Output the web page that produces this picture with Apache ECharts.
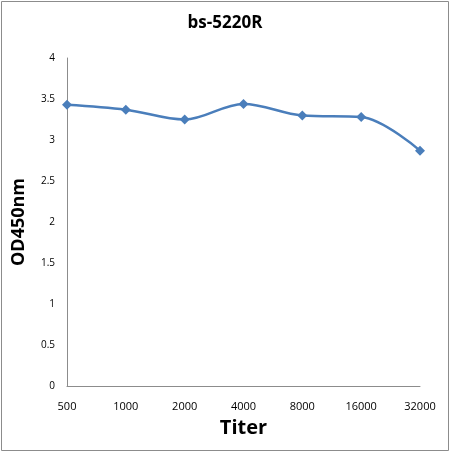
<!DOCTYPE html>
<html>
<head>
<meta charset="utf-8">
<script src="https://cdn.jsdelivr.net/npm/echarts@6/dist/echarts.min.js"></script>
<style>
  html, body { margin: 0; padding: 0; background: #fff; }
  #main { width: 450px; height: 452px; }
</style>
</head>
<body>
<div id="main"></div>
<script>
var titers = ['500', '1000', '2000', '4000', '8000', '16000', '32000'];
var od450 = [3.43, 3.37, 3.25, 3.44, 3.30, 3.28, 2.87];

var chartDom = document.getElementById('main');
var myChart = echarts.init(chartDom);
var font = 'Open Sans, DejaVu Sans, sans-serif';

var option = {
    animation: false,
    title: {
        text: 'bs-5220R',
        left: 'center',
        top: 10,
        textStyle: { fontFamily: font, fontSize: 17, fontWeight: 'bold', color: '#000' }
    },
    graphic: [{
        type: 'rect',
        shape: { x: 1.5, y: 1.5, width: 447, height: 449 },
        style: { fill: null, stroke: '#8c8c8c', lineWidth: 1 }
    }],
    grid: { left: 67, right: 30, top: 58, bottom: 66 },
    xAxis: {
        type: 'category',
        data: titers,
        boundaryGap: false,
        name: 'Titer',
        nameLocation: 'middle',
        nameGap: 32,
        nameTextStyle: { fontFamily: font, fontSize: 20, fontWeight: 'bold', color: '#000' },
        axisLine: { lineStyle: { color: '#8c8c8c', width: 1 } },
        axisTick: { show: false },
        axisLabel: { margin: 15, fontFamily: font, fontSize: 11, color: '#000', interval: 0 },
        splitLine: { show: false }
    },
    yAxis: {
        type: 'value',
        min: 0,
        max: 4,
        interval: 0.5,
        name: 'OD450nm',
        nameLocation: 'middle',
        nameGap: 39,
        nameTextStyle: { fontFamily: font, fontSize: 18, fontWeight: 'bold', color: '#000' },
        axisLine: { show: true, lineStyle: { color: '#8c8c8c', width: 1 } },
        axisTick: { show: false },
        axisLabel: { margin: 12, fontFamily: font, fontSize: 10, color: '#000' },
        splitLine: { show: false }
    },
    series: [{
        type: 'line',
        data: od450,
        smooth: 0.35,
        symbol: 'diamond',
        symbolSize: 10,
        lineStyle: { color: '#4a7ebb', width: 2.5 },
        itemStyle: { color: '#4a7ebb' }
    }]
};

option && myChart && myChart.setOption(option);
</script>
</body>
</html>
